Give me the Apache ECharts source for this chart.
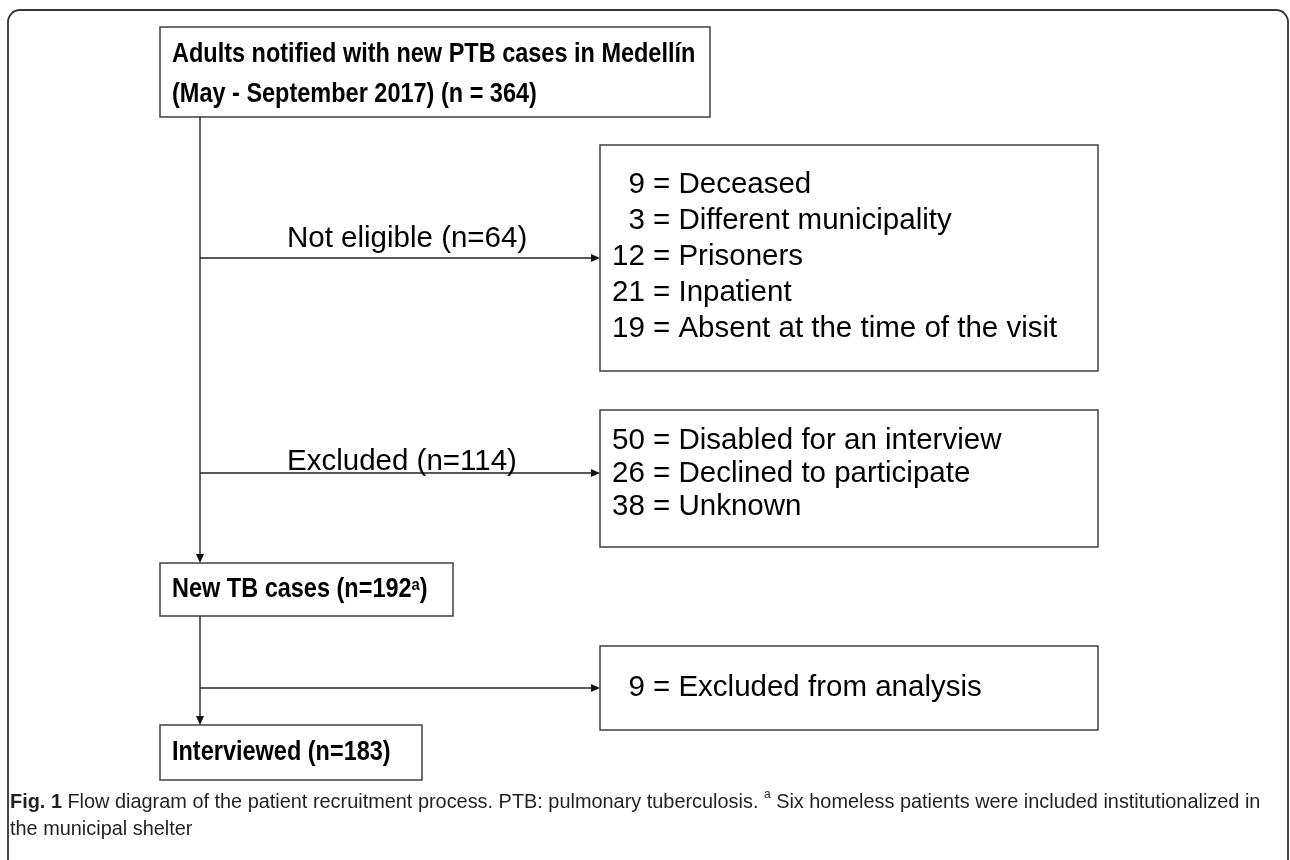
<!DOCTYPE html>
<html>
<head>
<meta charset="utf-8">
<script src="https://cdn.jsdelivr.net/npm/echarts@6/dist/echarts.min.js"></script>
<style>
html, body { margin: 0; padding: 0; background: #fff; }
#flow { width: 1290px; height: 860px; }
</style>
</head>
<body>
<div id="flow"></div>
<script>
// main column of the flow
const stepLines = [
    ['Adults notified with new PTB cases in Medellín', '(May - September 2017) (n = 364)'],
    ['New TB cases (n=192{s|a})'],
    ['Interviewed (n=183)']
];
// branches leaving the main column
const exitLabels = ['Not eligible (n=64)', 'Excluded (n=114)', ''];
const exitCounts = [[9, 3, 12, 21, 19], [50, 26, 38], [9]];
const exitReasons = [
    ['Deceased', 'Different municipality', 'Prisoners', 'Inpatient', 'Absent at the time of the visit'],
    ['Disabled for an interview', 'Declined to participate', 'Unknown'],
    ['Excluded from analysis']
];
const caption = '{b|Fig. 1} Flow diagram of the patient recruitment process. PTB: pulmonary tuberculosis. {sup|a} Six homeless patients were included institutionalized in\nthe municipal shelter';

// layout, in pixels of the hidden axes
const stepBoxes = [[160, 27, 710, 117], [160, 563, 453, 616], [160, 725, 422, 780]];
const stepLineY = [[55, 95], [590], [753]];
const exitBoxes = [[600, 145, 1098, 371], [600, 410, 1098, 547], [600, 646, 1098, 730]];
const exitArrowY = [258, 473, 688];
const exitLabelY = [239, 462, 0];
const exitLineY = [[185, 221, 257, 293, 329], [441, 474, 507], [688]];
const spineX = 200;

const FONT = '"Liberation Sans", Arial, Helvetica, sans-serif';

// flatten texts
let texts = [];
stepLines.forEach((lines, i) => {
    lines.forEach((t, j) => texts.push({x: stepBoxes[i][0] + 12, y: stepLineY[i][j], text: t, bold: true}));
});
exitLabels.forEach((t, i) => {
    if (t) texts.push({x: 287, y: exitLabelY[i], text: t, bold: false});
});
exitCounts.forEach((counts, i) => {
    counts.forEach((c, j) => {
        let num = c < 10 ? '  ' + c : '' + c;
        texts.push({x: 612, y: exitLineY[i][j], text: num + ' = ' + exitReasons[i][j], bold: false});
    });
});

let boxes = stepBoxes.concat(exitBoxes);
let arrows = [
    [spineX, stepBoxes[0][3], spineX, stepBoxes[1][1]],
    [spineX, stepBoxes[1][3], spineX, stepBoxes[2][1]]
];
exitArrowY.forEach((y, i) => arrows.push([spineX, y, exitBoxes[i][0], y]));

let chart = echarts.init(document.getElementById('flow'));

const option = {
    animation: false,
    backgroundColor: '#fff',
    title: {
        left: 10,
        top: 789,
        padding: 0,
        text: caption,
        textStyle: {
            fontFamily: FONT,
            fontSize: 19.9,
            fontWeight: 'normal',
            color: '#231f20',
            lineHeight: 27,
            rich: {
                b: {fontFamily: FONT, fontSize: 19.9, fontWeight: 'bold', color: '#231f20', lineHeight: 27},
                sup: {fontFamily: FONT, fontSize: 12, color: '#231f20', lineHeight: 13, verticalAlign: 'top'}
            }
        }
    },
    grid: {left: 0, right: 0, top: 0, bottom: 0},
    xAxis: {type: 'value', min: 0, max: 1290, show: false},
    yAxis: {type: 'value', min: 0, max: 860, inverse: true, show: false},
    series: [
        {
            // outer figure frame
            type: 'custom',
            silent: true,
            clip: false,
            data: [[8, 10, 1288, 900]],
            renderItem: function (params, api) {
                let p0 = api.coord([api.value(0), api.value(1)]);
                let p1 = api.coord([api.value(2), api.value(3)]);
                return {
                    type: 'rect',
                    shape: {x: p0[0], y: p0[1], width: p1[0] - p0[0], height: p1[1] - p0[1], r: [12, 12, 0, 0]},
                    style: {fill: 'none', stroke: '#333', lineWidth: 1.8}
                };
            }
        },
        {
            type: 'custom',
            silent: true,
            data: boxes,
            renderItem: function (params, api) {
                let p0 = api.coord([api.value(0), api.value(1)]);
                let p1 = api.coord([api.value(2), api.value(3)]);
                return {
                    type: 'rect',
                    shape: {x: p0[0], y: p0[1], width: p1[0] - p0[0], height: p1[1] - p0[1]},
                    style: {fill: '#fff', stroke: '#404040', lineWidth: 1.5}
                };
            }
        },
        {
            type: 'custom',
            silent: true,
            data: arrows,
            renderItem: function (params, api) {
                let a = api.coord([api.value(0), api.value(1)]);
                let b = api.coord([api.value(2), api.value(3)]);
                let dx = b[0] - a[0], dy = b[1] - a[1];
                let len = Math.sqrt(dx * dx + dy * dy);
                let ux = dx / len, uy = dy / len;
                let hl = 9, hw = 4;
                let base = [b[0] - ux * hl, b[1] - uy * hl];
                return {
                    type: 'group',
                    children: [
                        {
                            type: 'line',
                            shape: {x1: a[0], y1: a[1], x2: base[0], y2: base[1]},
                            style: {stroke: '#222', lineWidth: 1.4}
                        },
                        {
                            type: 'polygon',
                            shape: {points: [b, [base[0] - uy * hw, base[1] + ux * hw], [base[0] + uy * hw, base[1] - ux * hw]]},
                            style: {fill: '#111'}
                        }
                    ]
                };
            }
        },
        {
            type: 'custom',
            silent: true,
            data: texts.map(t => [t.x, t.y]),
            renderItem: function (params, api) {
                let t = texts[params.dataIndex];
                let p = api.coord([api.value(0), api.value(1)]);
                return {
                    type: 'text',
                    x: p[0],
                    y: p[1],
                    // the bold box titles are set in a narrower face
                    scaleX: t.bold ? 0.87 : 1,
                    style: {
                        text: t.text,
                        fill: '#000',
                        fontFamily: FONT,
                        fontSize: t.bold ? 27 : 29.5,
                        fontWeight: t.bold ? 'bold' : 'normal',
                        align: 'left',
                        verticalAlign: 'middle',
                        rich: {
                            s: {fontFamily: FONT, fontSize: 17, fontWeight: 'bold', fill: '#000', color: '#000', lineHeight: 13, verticalAlign: 'top'}
                        }
                    }
                };
            }
        }
    ]
};

chart.setOption(option);

window.addEventListener('resize', function () {
    chart.resize();
});
</script>
</body>
</html>
